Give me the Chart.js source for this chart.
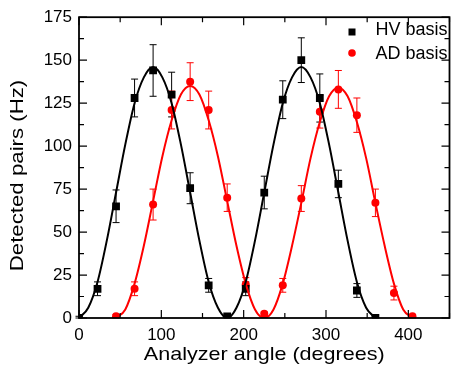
<!DOCTYPE html>
<html>
<head>
<meta charset="utf-8">
<script src="https://cdn.jsdelivr.net/npm/chart.js@4/dist/chart.umd.min.js"></script>
<style>
  body { margin: 0; background: #fff; }
  canvas { display: block; }
</style>
</head>
<body>
<canvas id="chart" width="455" height="373"></canvas>
<script>
// Measured points (angle in degrees, coincidence rate in Hz, error bar half-length)
const hvAngles = [0, 22.5, 45, 67.5, 90, 112.5, 135, 157.5, 180, 202.5, 225, 247.5, 270, 292.5, 315, 337.5, 360];
const hvCounts = [0, 17, 65, 128, 144, 130, 75.5, 19, 1, 17, 73, 127, 150, 128, 78, 16, 0];
const hvErrors = [1, 4, 9.5, 11, 15, 13, 9, 4, 1, 4, 9.5, 11, 13, 14, 8, 4, 1];

const adAngles = [45, 67.5, 90, 112.5, 135, 157.5, 180, 202.5, 225, 247.5, 270, 292.5, 315, 337.5, 360, 382.5, 405];
const adCounts = [1, 17, 66, 121, 137.5, 121, 70, 19.5, 2.5, 19, 69.5, 120, 133, 118, 67, 14.5, 1];
const adErrors = [1, 4, 9, 11, 11, 11, 8, 4, 1, 4, 7.5, 9.5, 11, 10, 8, 4, 1];

// Fit curves
const hvFitAngles = [0, 11.25, 22.5, 33.75, 45, 56.25, 67.5, 78.75, 90, 101.25, 112.5, 123.75, 135, 146.25, 157.5, 168.75, 180,
  191.25, 202.5, 213.75, 225, 236.25, 247.5, 258.75, 270, 281.25, 292.5, 303.75, 315, 326.25, 337.5, 348.75, 360];
const hvFitCounts = [0, 6, 21, 45, 73, 101, 125, 140, 146, 140, 125, 101, 73, 45, 21, 6, 0,
  6, 21, 45, 73, 101, 125, 140, 146, 140, 125, 101, 73, 45, 21, 6, 0];

const adFitAngles = [45, 56.25, 67.5, 78.75, 90, 101.25, 112.5, 123.75, 135, 146.25, 157.5, 168.75, 180, 191.25, 202.5, 213.75, 225,
  236.25, 247.5, 258.75, 270, 281.25, 292.5, 303.75, 315, 326.25, 337.5, 348.75, 360, 371.25, 382.5, 393.75, 405];
const adFitCounts = [0, 5, 20, 42, 68, 94, 115, 130, 135, 130, 115, 94, 68, 42, 20, 5, 0,
  5, 20, 42, 67, 93, 114, 129, 134, 129, 114, 93, 67, 42, 20, 5, 0];

const xTicks = [0, 100, 200, 300, 400];
const yTicks = [0, 25, 50, 75, 100, 125, 150, 175];

const xTitle = 'Analyzer angle (degrees)';
const yTitle = 'Detected pairs (Hz)';

const FONT = "'Liberation Sans', Arial, sans-serif";

function toPoints(xs, ys) {
  return xs.map((x, i) => ({ x: x, y: ys[i] }));
}

// error bars, inward ticks, box frame, axis titles and legend
const decorations = {
  id: 'decorations',
  beforeDatasetsDraw(chart) {
    const ctx = chart.ctx;
    const xs = chart.scales.x, ys = chart.scales.y;
    const sets = [
      { angles: hvAngles, counts: hvCounts, errs: hvErrors, color: '#000000' },
      { angles: adAngles, counts: adCounts, errs: adErrors, color: '#ff0000' }
    ];
    ctx.save();
    ctx.lineWidth = 1;
    sets.forEach(s => {
      ctx.strokeStyle = s.color;
      s.angles.forEach((a, i) => {
        const px = xs.getPixelForValue(a);
        const top = ys.getPixelForValue(s.counts[i] + s.errs[i]);
        const bot = ys.getPixelForValue(Math.max(0, s.counts[i] - s.errs[i]));
        ctx.beginPath();
        ctx.moveTo(px, top); ctx.lineTo(px, bot);
        ctx.moveTo(px - 3.5, top); ctx.lineTo(px + 3.5, top);
        ctx.moveTo(px - 3.5, bot); ctx.lineTo(px + 3.5, bot);
        ctx.stroke();
      });
    });
    ctx.restore();
  },
  afterDatasetsDraw(chart) {
    const ctx = chart.ctx;
    const a = chart.chartArea;
    const xs = chart.scales.x, ys = chart.scales.y;
    ctx.save();
    ctx.strokeStyle = '#000';
    ctx.lineWidth = 1.8;
    ctx.strokeRect(a.left, a.top, a.right - a.left, a.bottom - a.top);

    ctx.lineWidth = 1.2;
    ctx.beginPath();
    for (let v = 0; v <= 450; v += 50) {
      const px = xs.getPixelForValue(v);
      const len = v % 100 === 0 ? 8 : 5;
      ctx.moveTo(px, a.bottom); ctx.lineTo(px, a.bottom - len);
      ctx.moveTo(px, a.top); ctx.lineTo(px, a.top + len);
    }
    for (let v = 0; v <= 175; v += 12.5) {
      const py = ys.getPixelForValue(v);
      const len = v % 25 === 0 ? 8 : 5;
      ctx.moveTo(a.left, py); ctx.lineTo(a.left + len, py);
      ctx.moveTo(a.right, py); ctx.lineTo(a.right - len, py);
    }
    ctx.stroke();

    // axis titles (the original lettering runs a bit wide)
    ctx.fillStyle = '#000';
    ctx.font = '19px ' + FONT;
    ctx.textAlign = 'center';
    ctx.textBaseline = 'alphabetic';
    ctx.save();
    ctx.translate((a.left + a.right) / 2, 360);
    ctx.scale(1.135, 1);
    ctx.fillText(xTitle, 0, 0);
    ctx.restore();
    ctx.save();
    ctx.translate(23, 175.5);
    ctx.rotate(-Math.PI / 2);
    ctx.scale(1.17, 1);
    ctx.fillText(yTitle, 0, 0);
    ctx.restore();

    // legend
    ctx.textAlign = 'left';
    ctx.font = '18px ' + FONT;
    ctx.fillRect(348.5, 28.5, 7, 7);
    ctx.fillText(chart.data.datasets[2].label, 375.5, 35);
    ctx.fillStyle = '#ff0000';
    ctx.beginPath();
    ctx.arc(352, 53, 3.8, 0, Math.PI * 2);
    ctx.fill();
    ctx.fillStyle = '#000';
    ctx.fillText(chart.data.datasets[3].label, 375.5, 58.5);
    ctx.restore();
  }
};

const ctx = document.getElementById('chart').getContext('2d');
new Chart(ctx, {
  type: 'line',
  data: {
    datasets: [
      {
        label: 'HV fit',
        data: toPoints(hvFitAngles, hvFitCounts),
        borderColor: '#000000',
        borderWidth: 2,
        pointRadius: 0,
        cubicInterpolationMode: 'monotone',
        fill: false
      },
      {
        label: 'AD fit',
        data: toPoints(adFitAngles, adFitCounts),
        borderColor: '#ff0000',
        borderWidth: 2,
        pointRadius: 0,
        cubicInterpolationMode: 'monotone',
        fill: false
      },
      {
        label: 'HV basis',
        data: toPoints(hvAngles, hvCounts),
        showLine: false,
        pointStyle: 'rect',
        pointRadius: 5.5,
        pointBorderWidth: 0,
        backgroundColor: '#000000',
        borderColor: '#000000'
      },
      {
        label: 'AD basis',
        data: toPoints(adAngles, adCounts),
        showLine: false,
        pointStyle: 'circle',
        pointRadius: 4,
        pointBorderWidth: 0,
        backgroundColor: '#ff0000',
        borderColor: '#ff0000'
      }
    ]
  },
  options: {
    responsive: false,
    animation: false,
    layout: { padding: { top: 15, right: 2, left: 0, bottom: 0 } },
    plugins: {
      legend: { display: false },
      tooltip: { enabled: false }
    },
    scales: {
      x: {
        type: 'linear',
        min: 0,
        max: 450,
        afterBuildTicks: s => { s.ticks = xTicks.map(v => ({ value: v })); },
        afterFit: s => { s.height = 55; },
        ticks: { color: '#000', padding: 7, maxRotation: 0, font: { family: FONT, size: 17 } },
        grid: { display: false, drawTicks: false },
        border: { display: false }
      },
      y: {
        type: 'linear',
        min: 0,
        max: 175,
        afterBuildTicks: s => { s.ticks = yTicks.map(v => ({ value: v })); },
        afterFit: s => { s.width = 79; },
        ticks: { color: '#000', padding: 7, font: { family: FONT, size: 17 } },
        grid: { display: false, drawTicks: false },
        border: { display: false }
      }
    }
  },
  plugins: [decorations]
});
</script>
</body>
</html>
